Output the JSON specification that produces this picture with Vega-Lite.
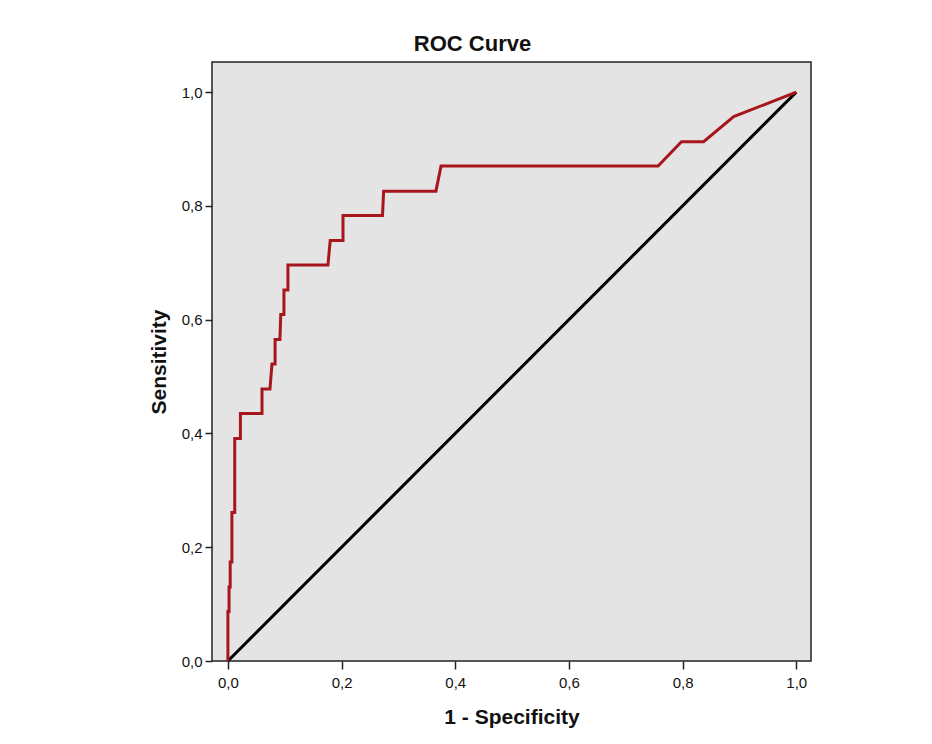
{
  "$schema": "https://vega.github.io/schema/vega-lite/v6.json",
  "autosize": {"type": "none"},
  "width": 599,
  "height": 599,
  "padding": {"left": 212, "top": 62, "right": 121, "bottom": 83},
  "background": "white",
  "title": {"text": "ROC Curve", "font": "Liberation Sans", "fontSize": 22, "fontWeight": "bold", "color": "#111111", "offset": 6, "anchor": "middle", "dx": -39},
  "config": {
    "view": {"fill": "#E4E4E4", "stroke": "#222222", "strokeWidth": 1.5},
    "axis": {
      "grid": false, "domain": false, "tickColor": "#222222", "tickWidth": 1.5,
      "labelFont": "Liberation Sans", "labelFontSize": 15, "labelColor": "#111111",
      "titleFont": "Liberation Sans", "titleFontSize": 21, "titleFontWeight": "bold", "titleColor": "#111111"
    }
  },
  "datasets": {
    "roc": [
      {"i": 0, "fpr": 0.0, "tpr": 0.0},
      {"i": 1, "fpr": 0.0, "tpr": 0.087},
      {"i": 2, "fpr": 0.002, "tpr": 0.087},
      {"i": 3, "fpr": 0.002, "tpr": 0.130},
      {"i": 4, "fpr": 0.004, "tpr": 0.130},
      {"i": 5, "fpr": 0.004, "tpr": 0.174},
      {"i": 6, "fpr": 0.007, "tpr": 0.174},
      {"i": 7, "fpr": 0.007, "tpr": 0.261},
      {"i": 8, "fpr": 0.012, "tpr": 0.261},
      {"i": 9, "fpr": 0.012, "tpr": 0.391},
      {"i": 10, "fpr": 0.022, "tpr": 0.391},
      {"i": 11, "fpr": 0.022, "tpr": 0.435},
      {"i": 12, "fpr": 0.060, "tpr": 0.435},
      {"i": 13, "fpr": 0.060, "tpr": 0.478},
      {"i": 14, "fpr": 0.074, "tpr": 0.478},
      {"i": 15, "fpr": 0.0775, "tpr": 0.522},
      {"i": 16, "fpr": 0.083, "tpr": 0.522},
      {"i": 17, "fpr": 0.083, "tpr": 0.565},
      {"i": 18, "fpr": 0.0915, "tpr": 0.565},
      {"i": 19, "fpr": 0.093, "tpr": 0.609},
      {"i": 20, "fpr": 0.0986, "tpr": 0.609},
      {"i": 21, "fpr": 0.0986, "tpr": 0.652},
      {"i": 22, "fpr": 0.1056, "tpr": 0.652},
      {"i": 23, "fpr": 0.1056, "tpr": 0.696},
      {"i": 24, "fpr": 0.176, "tpr": 0.696},
      {"i": 25, "fpr": 0.180, "tpr": 0.739},
      {"i": 26, "fpr": 0.2025, "tpr": 0.739},
      {"i": 27, "fpr": 0.2025, "tpr": 0.783},
      {"i": 28, "fpr": 0.272, "tpr": 0.783},
      {"i": 29, "fpr": 0.274, "tpr": 0.826},
      {"i": 30, "fpr": 0.366, "tpr": 0.826},
      {"i": 31, "fpr": 0.375, "tpr": 0.870},
      {"i": 32, "fpr": 0.757, "tpr": 0.870},
      {"i": 33, "fpr": 0.798, "tpr": 0.913},
      {"i": 34, "fpr": 0.837, "tpr": 0.913},
      {"i": 35, "fpr": 0.890, "tpr": 0.957},
      {"i": 36, "fpr": 1.0, "tpr": 1.0}
    ],
    "ref": [
      {"i": 0, "fpr": 0.0, "tpr": 0.0},
      {"i": 1, "fpr": 1.0, "tpr": 1.0}
    ]
  },
  "encoding": {
    "x": {"field": "fpr", "type": "quantitative",
      "scale": {"domain": [-0.028, 1.026], "nice": false, "zero": false},
      "axis": {"values": [0, 0.2, 0.4, 0.6, 0.8, 1.0], "title": "1 - Specificity", "tickSize": 8, "labelPadding": 6, "titlePadding": 16, "labelFontSize": 15,
        "labelExpr": "replace(format(datum.value, '.1f'), '.', ',')"}},
    "y": {"field": "tpr", "type": "quantitative",
      "scale": {"domain": [0, 1.053], "nice": false},
      "axis": {"values": [0, 0.2, 0.4, 0.6, 0.8, 1.0], "title": "Sensitivity", "tickSize": 7, "labelPadding": 3, "titlePadding": 12, "labelFontSize": 15,
        "labelExpr": "replace(format(datum.value, '.1f'), '.', ',')"}},
    "order": {"field": "i", "type": "quantitative"}
  },
  "layer": [
    {"data": {"name": "ref"}, "mark": {"type": "line", "color": "#000000", "strokeWidth": 3}},
    {"data": {"name": "roc"}, "mark": {"type": "line", "color": "#A8161D", "strokeWidth": 3}}
  ]
}
